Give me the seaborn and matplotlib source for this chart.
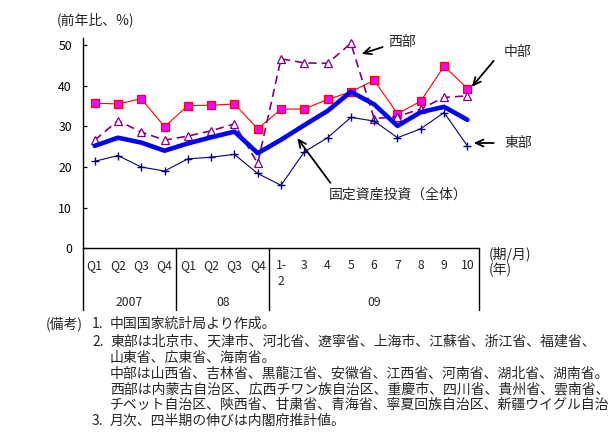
import numpy as np
import matplotlib
matplotlib.use("Agg")
from matplotlib import pyplot as plt
import seaborn as sns

# data
periods = ["Q1", "Q2", "Q3", "Q4", "Q1", "Q2", "Q3", "Q4",
           "1-\n2", "3", "4", "5", "6", "7", "8", "9", "10"]
years = ["2007", "08", "09"]
year_sizes = [4, 4, 9]

central = [35.7, 35.5, 36.8, 29.9, 35.1, 35.2, 35.5, 29.4,
           34.2, 34.3, 36.6, 38.5, 41.3, 33.1, 36.2, 44.8, 39.3]
western = [26.6, 31.4, 28.6, 26.6, 27.6, 28.9, 30.6, 20.9,
           46.6, 45.6, 45.5, 50.4, 31.9, 32.4, 34.3, 37.1, 37.5]
overall = [25.2, 27.2, 26.0, 24.0, 25.8, 27.3, 28.7, 23.4,
           26.7, 30.3, 33.8, 38.5, 35.4, 30.1, 33.5, 34.8, 31.6]
eastern = [21.4, 22.8, 20.0, 19.0, 22.0, 22.4, 23.1, 18.4,
           15.5, 23.7, 27.2, 32.2, 31.3, 27.2, 29.4, 33.4, 25.2]

# the last-but-one line is cut at the right edge in the original
notes = [
    "中国国家統計局より作成。",
    "東部は北京市、天津市、河北省、遼寧省、上海市、江蘇省、浙江省、福建省、",
    "山東省、広東省、海南省。",
    "中部は山西省、吉林省、黒龍江省、安徽省、江西省、河南省、湖北省、湖南省。",
    "西部は内蒙古自治区、広西チワン族自治区、重慶市、四川省、貴州省、雲南省、",
    "チベット自治区、陝西省、甘粛省、青海省、寧夏回族自治区、新疆ウイグル自治",
    "月次、四半期の伸びは内閣府推計値。",
]

sns.set_style("white")
plt.rcParams["font.family"] = ["Noto Sans CJK JP", "DejaVu Sans"]
FS = 10
TFS = 8.8

W, H = 610, 432
fig = plt.figure(figsize=(W / 100, H / 100), dpi=100)
ax_l, ax_r, ax_b, ax_t = 83, 479, 248.3, 37.7
ax = fig.add_axes([ax_l / W, 1 - ax_b / H, (ax_r - ax_l) / W, (ax_b - ax_t) / H])

x = np.arange(len(periods))

sns.lineplot(x=x, y=central, ax=ax, color="red", lw=0.8, marker="s",
             markersize=5.2, markerfacecolor="#FF00FF", markeredgecolor="red",
             markeredgewidth=0.9)
sns.lineplot(x=x, y=western, ax=ax, color="#800080", lw=1.2,
             linestyle=(0, (5, 3)), marker="^", markersize=5.5,
             markerfacecolor="white", markeredgecolor="#800080",
             markeredgewidth=0.9)
sns.lineplot(x=x, y=overall, ax=ax, color="#0000FF", lw=3.3)
sns.lineplot(x=x, y=eastern, ax=ax, color="#000080", lw=0.8, marker="+",
             markersize=6, markeredgewidth=1.0, markeredgecolor="#000080")

ax.set_xlim(-0.5, len(periods) - 0.5)
ax.set_ylim(0, 51.8)
ax.set_yticks(range(0, 51, 10))
ax.tick_params(axis="y", direction="in", length=3, width=0.9, pad=8,
               labelsize=TFS, left=True, colors="black")
ax.set_xticks(x)
ax.set_xticklabels(periods, fontsize=TFS, linespacing=1.25)
ax.tick_params(axis="x", length=0, pad=8)
ax.set_xlabel("")
ax.set_ylabel("")
for s in ["top", "right"]:
    ax.spines[s].set_visible(False)
for s in ["left", "bottom"]:
    ax.spines[s].set_color("black")
    ax.spines[s].set_linewidth(1.0)
ax.grid(False)

# group separators below the axis
axh = ax_b - ax_t
low = -(310 - ax_b) / axh
edges = np.concatenate([[0], np.cumsum(year_sizes)]) - 0.5
for e in edges:
    ax.axvline(e, ymin=low, ymax=0, color="black", lw=1.0, clip_on=False)
for yr, a, b in zip(years, edges[:-1], edges[1:]):
    ax.text((a + b) / 2, -(303 - ax_b) / axh, yr, ha="center", va="center",
            fontsize=TFS, transform=ax.get_xaxis_transform())

# annotations
arrow = dict(arrowstyle="->,head_length=0.55,head_width=0.25", color="black",
             lw=1.3, shrinkA=0, shrinkB=0)
labels = [
    ("西部", (11.46, 47.8), (12.36, 49.5), (13.18, 50.7)),
    ("中部", (16.19, 39.7), (17.13, 46.1), (18.17, 48.3)),
    ("東部", (16.27, 25.9), (17.13, 25.9), (18.17, 25.9)),
    ("固定資産投資（全体）", (8.70, 27.1), (10.12, 16.1), (13.05, 13.1)),
]
for txt, head, tail, pos in labels:
    ax.annotate("", xy=head, xytext=tail, arrowprops=arrow,
                annotation_clip=False)
    ax.text(pos[0], pos[1], txt, ha="center", va="center", fontsize=FS,
            clip_on=False)

def ftext(px, py, s, **kw):
    fig.text(px / W, 1 - py / H, s, va="center", fontsize=FS, **kw)

ftext(57, 20, "(前年比、%)")
ftext(489, 255, "(期/月)")
ftext(489, 270, "(年)")

ftext(46, 324, "(備考)")
ftext(92, 324, "1.")
ftext(92, 342, "2.")
ftext(92, 421, "3.")
for s, py in zip(notes, [324, 342, 358, 374, 390, 405, 421]):
    ftext(110, py, s)

fig.savefig("out.png", dpi=100)
